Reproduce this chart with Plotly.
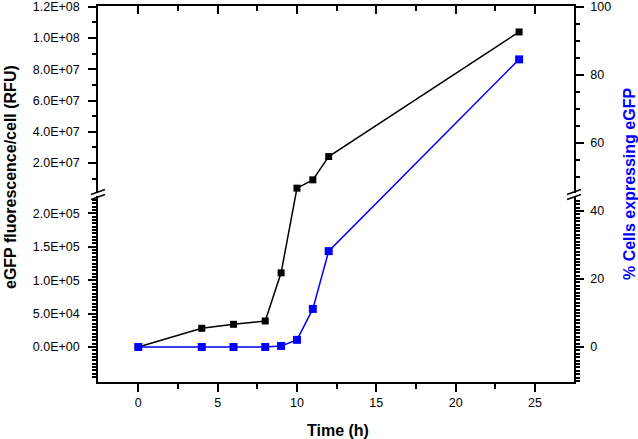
import plotly.graph_objects as go

# ---------------- data ----------------
time_h = [0, 4, 6, 8, 9, 10, 11, 12, 24]
fluor_rfu = [0, 2.8e4, 3.4e4, 3.9e4, 1.11e5, 4.0e6, 9.3e6, 2.42e7, 1.038e8]
pct_cells = [0, 0, 0, 0, 0.3, 2.1, 11.2, 28.2, 84.6]

x_ticks = [0, 5, 10, 15, 20, 25]
left_low_ticks = [0, 5e4, 1e5, 1.5e5, 2e5]
left_low_text = ["0.0E+00", "5.0E+04", "1.0E+05", "1.5E+05", "2.0E+05"]
left_up_ticks = [2e7, 4e7, 6e7, 8e7, 1e8, 1.2e8]
left_up_text = ["2.0E+07", "4.0E+07", "6.0E+07", "8.0E+07", "1.0E+08", "1.2E+08"]
right_ticks = [0, 20, 40, 60, 80, 100]

# ---------------- layout geometry ----------------
W, H = 638, 439
ML, MR, MT, MB = 98, 64, 6, 57
PW = W - ML - MR
PH = H - MT - MB  # 376

# broken left axis: piecewise-linear scale (axis units = pixels from bottom)
LOW_ZERO = 35.0
LOW_SCALE = 33.4 / 5e4
UP_TOP = 1.2e8
UP_TOP_U = 375.4
UP_SCALE = 31.3 / 2e7
BREAK_V = 2.5e5


def to_axis(v):
    if v <= BREAK_V:
        return LOW_ZERO + v * LOW_SCALE
    return UP_TOP_U - (UP_TOP - v) * UP_SCALE


X_RANGE = [-2.54, 27.46]
Y2_RANGE = [-10.3, 100.3]

left_minor = [k * 5e3 for k in range(-10, 45) if k % 10 != 0] + \
             [1e7 + 2e7 * k for k in range(6)]
right_minor = [k for k in range(-10, 44) if k % 20 != 0] + [50, 55, 65, 70, 75, 85, 90, 95]
x_minor = [2.5, 7.5, 12.5, 17.5, 22.5]

FONT = "Liberation Sans, Arial, sans-serif"
LW = 1.5

fig = go.Figure()
fig.add_trace(go.Scatter(
    x=time_h, y=[to_axis(v) for v in fluor_rfu], mode="lines+markers",
    line=dict(color="black", width=1.5),
    marker=dict(symbol="square", size=7, color="black"),
    xaxis="x", yaxis="y", cliponaxis=False))
# invisible carriers for the minor-tick axes
fig.add_trace(go.Scatter(x=[None], y=[None], xaxis="x", yaxis="y3",
                         showlegend=False, hoverinfo="skip"))
fig.add_trace(go.Scatter(x=[None], y=[None], xaxis="x", yaxis="y4",
                         showlegend=False, hoverinfo="skip"))
fig.add_trace(go.Scatter(
    x=time_h, y=pct_cells, mode="lines+markers",
    line=dict(color="#0000ff", width=1.5),
    marker=dict(symbol="square", size=8, color="#0000ff"),
    xaxis="x2", yaxis="y2", cliponaxis=False))

common = dict(showgrid=False, zeroline=False, showline=True, linecolor="black",
              linewidth=LW, tickcolor="black", tickwidth=LW, automargin=False,
              ticklabeloverflow="allow",
              tickfont=dict(family=FONT, size=12.5, color="black"))
minor_axis = dict(showgrid=False, zeroline=False, showline=False, tickcolor="black",
                  tickwidth=LW, automargin=False, showticklabels=False,
                  ticks="outside", ticklen=5, tickmode="array")

fig.update_layout(
    width=W, height=H, margin=dict(l=ML, r=MR, t=MT, b=MB, autoexpand=False),
    plot_bgcolor="white", paper_bgcolor="white", showlegend=False,
    font=dict(family=FONT, size=12.5, color="black"),
    xaxis=dict(range=X_RANGE, tickmode="array", tickvals=x_ticks, ticks="outside",
               ticklen=8, anchor="y",
               minor=dict(tickmode="array", tickvals=x_minor, ticks="outside",
                          ticklen=5, tickwidth=LW, tickcolor="black"),
               **common),
    xaxis2=dict(range=X_RANGE, overlaying="x", side="top", anchor="y",
                tickmode="array", tickvals=x_ticks, ticks="inside", ticklen=8,
                showticklabels=False,
                minor=dict(tickmode="array", tickvals=x_minor, ticks="inside",
                           ticklen=5, tickwidth=LW, tickcolor="black"),
                **common),
    yaxis=dict(range=[0, PH], tickmode="array",
               tickvals=[to_axis(v) for v in left_low_ticks + left_up_ticks],
               ticktext=left_low_text + left_up_text,
               ticks="outside", ticklen=8, ticklabelstandoff=6, anchor="x",
               **common),
    yaxis2=dict(range=Y2_RANGE, overlaying="y", side="right", anchor="x",
                tickmode="array", tickvals=right_ticks, ticks="outside", ticklen=8,
                ticklabelstandoff=4, **common),
    yaxis3=dict(range=[0, PH], overlaying="y", side="left", anchor="x",
                tickvals=[to_axis(v) for v in left_minor], **minor_axis),
    yaxis4=dict(range=Y2_RANGE, overlaying="y", side="right", anchor="x",
                tickvals=right_minor, **minor_axis),
)

# axis breaks (gap + double slash) on both vertical axes
shapes = []
BREAK_LO_U, BREAK_HI_U = 185.0, 190.0
for xa in (0, 1):
    shapes.append(dict(type="rect", xref="paper", yref="y", xsizemode="pixel", xanchor=xa,
                       x0=-4, x1=4, y0=BREAK_LO_U + 1, y1=BREAK_HI_U - 1,
                       fillcolor="white", line=dict(width=0), layer="above"))
    for uc in (BREAK_LO_U, BREAK_HI_U):
        shapes.append(dict(type="line", xref="paper", yref="y", xsizemode="pixel", xanchor=xa,
                           x0=-7, x1=7, y0=uc - 2.5, y1=uc + 2.5,
                           line=dict(color="black", width=LW), layer="above"))
fig.update_layout(shapes=shapes)

# axis titles
fig.add_annotation(text="<b>eGFP fluorescence/cell (RFU)</b>", xref="paper", yref="paper",
                   x=(10 - ML) / PW, y=(MT + PH - 177) / PH, textangle=-90, showarrow=False,
                   xanchor="center", yanchor="middle",
                   font=dict(family=FONT, size=16, color="black"))
fig.add_annotation(text="<b>% Cells expressing eGFP</b>", xref="paper", yref="paper",
                   x=(629 - ML) / PW, y=(MT + PH - 184) / PH, textangle=-90, showarrow=False,
                   xanchor="center", yanchor="middle",
                   font=dict(family=FONT, size=16, color="#0000ff"))
fig.add_annotation(text="<b>Time (h)</b>", xref="paper", yref="paper",
                   x=(338 - ML) / PW, y=(MT + PH - 430) / PH, showarrow=False,
                   xanchor="center", yanchor="middle",
                   font=dict(family=FONT, size=16, color="black"))

fig.write_html("out.html", config={"displayModeBar": False},
               post_script="document.body.style.margin='0';document.body.style.padding='0';")
